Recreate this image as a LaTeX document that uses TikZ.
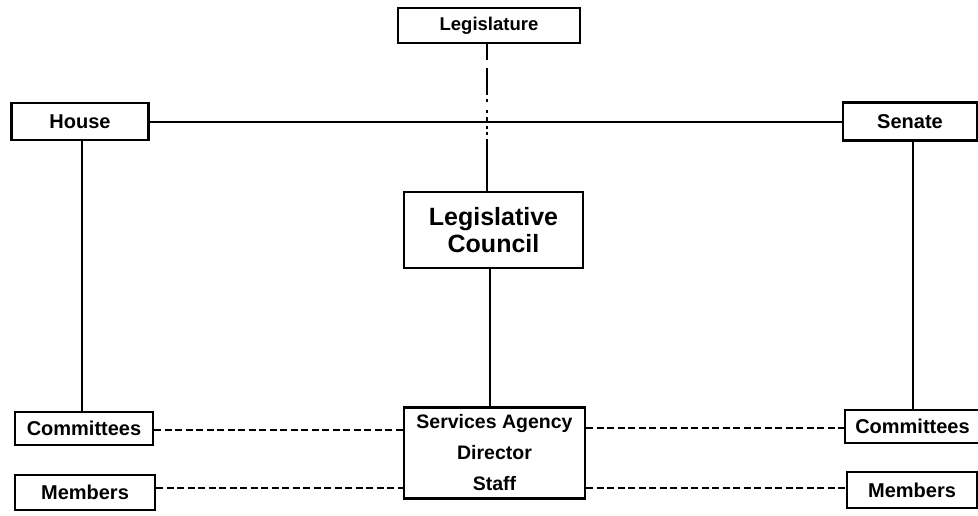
\documentclass[tikz,border=0pt]{standalone}
\usepackage{fontspec}
\setmainfont{Liberation Sans}
\begin{document}
\begin{tikzpicture}[x=1pt,y=-1pt,
  box/.style={draw,line width=2.4pt,inner sep=0pt,font=\bfseries\fontsize{20}{24}\selectfont,align=center},
  conn/.style={line width=2pt},
  dashconn/.style={line width=2.4pt,dash pattern=on 7pt off 3.5pt}]
\useasboundingbox (0,0) rectangle (978,515);
% boxes
\node[box,minimum width=182pt,minimum height=35pt,font=\bfseries\fontsize{18.5}{22}\selectfont] (leg) at (489,25.5) {Legislature};
\node[box,minimum width=137pt,minimum height=37pt] (house) at (80,121.5) {House};
\node[box,minimum width=134pt,minimum height=38pt] (senate) at (910,121.5) {Senate};
\node[box,minimum width=179pt,minimum height=76pt,font=\bfseries\fontsize{25}{27}\selectfont] (council) at (493.5,230) {Legislative\\Council};
\node[box,minimum width=181pt,minimum height=91pt,font=\bfseries\fontsize{19.5}{31}\selectfont] (agency) at (494.5,453) {Services Agency\\Director\\Staff};
\node[box,minimum width=138pt,minimum height=33pt] (lcom) at (84,428.5) {Committees};
\node[box,minimum width=140pt,minimum height=35pt] (lmem) at (85,492.5) {Members};
\node[box,minimum width=135pt,minimum height=33pt] (rcom) at (912.5,426.5) {Committees};
\node[box,minimum width=130pt,minimum height=36pt] (rmem) at (912,490) {Members};
% connectors
\draw[conn] (house.east) -- (senate.west);
\coordinate (mid) at (487,121.5);
\draw[line width=1.6pt,dash pattern=on 16pt off 8pt on 27pt off 4pt on 3pt off 8pt on 3pt off 4pt] (leg.south -| mid) -- (mid);
\draw[line width=1.6pt,dash pattern=on 0pt off 4pt on 3pt off 3pt on 3pt off 4pt on 60pt off 0pt] (mid) -- (council.north -| mid);
\draw[conn] (council.south -| 490,0) -- (agency.north -| 490,0);
\draw[conn] (house.south -| 82,0) -- (lcom.north -| 82,0);
\draw[conn] (senate.south -| 913,0) -- (rcom.north -| 913,0);
\draw[dashconn] (lcom.east |- 0,430) -- (agency.west |- 0,430);
\draw[dashconn] (lmem.east |- 0,488) -- (agency.west |- 0,488);
\draw[dashconn] (agency.east |- 0,428) -- (rcom.west |- 0,428);
\draw[dashconn] (agency.east |- 0,488) -- (rmem.west |- 0,488);
\end{tikzpicture}
\end{document}
